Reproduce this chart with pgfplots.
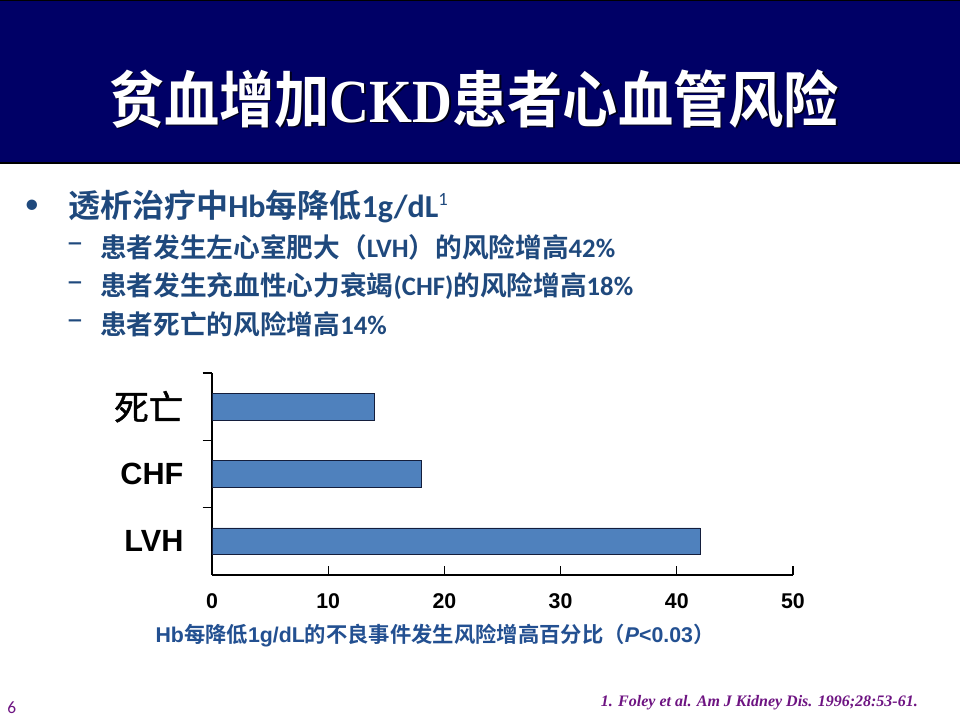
\documentclass[border=0pt]{standalone}
\usepackage{pgfplots}
\pgfplotsset{compat=1.18}
\usepackage{fontspec}
\setmainfont{Liberation Sans}
\newfontfamily\cjk{Noto Sans CJK SC}[BoldFont={Noto Sans CJK SC Bold}]
\newfontfamily\cjkmed{Noto Sans CJK SC}[FakeBold=1.2]
\newfontfamily\calfont{Carlito}
\newfontfamily\arialfont{Liberation Sans}
\newfontfamily\seriffont{Liberation Serif}
\newcommand\fs[1]{\fontsize{#1}{#1}\selectfont}
\definecolor{navy}{RGB}{0,0,102}
\definecolor{txtblue}{RGB}{31,73,125}
\definecolor{lblblue}{RGB}{35,80,145}
\definecolor{barblue}{RGB}{79,129,189}
\definecolor{bardraw}{RGB}{20,30,60}
\definecolor{refpurple}{RGB}{110,20,130}
\def\px#1#2{({(#1)*0.75pt},{540pt-(#2)*0.75pt})}
\begin{document}
\begin{tikzpicture}
\useasboundingbox[fill=white] (0,0) rectangle (720pt,540pt);
% title band
\fill[navy] \px{0}{0} rectangle \px{960}{163};
\draw[black, line width=1pt] \px{0}{0.5} -- \px{960}{0.5};
\draw[black, line width=1.2pt] \px{0}{163} -- \px{960}{163};
\node[black!75!navy, xscale=0.9, inner sep=0pt] at \px{475.5}{100.5} {\cjk\bfseries\fs{46}贫血增加{\seriffont CKD}患者心血管风险};
\node[white, xscale=0.9, inner sep=0pt] at \px{474}{99} {\cjk\bfseries\fs{46}贫血增加{\seriffont CKD}患者心血管风险};
% bullets
\node[txtblue, inner sep=0pt] at \px{32}{207} {\calfont\fs{22}•};
\node[txtblue, anchor=west, inner sep=0pt] at \px{68}{207} {\bfseries\fs{24}{\cjk 透析治疗中}{\calfont Hb}{\cjk 每降低}{\calfont 1g/dL\raisebox{0.38em}{\fs{14}\mdseries 1}}};
\node[txtblue, anchor=west, inner sep=0pt] at \px{66}{248} {\calfont\fs{26}–};
\node[txtblue, anchor=west, inner sep=0pt] at \px{66}{287} {\calfont\fs{26}–};
\node[txtblue, anchor=west, inner sep=0pt] at \px{66}{325} {\calfont\fs{26}–};
\node[txtblue, anchor=west, inner sep=0pt] at \px{100}{247} {\bfseries\fs{20}{\cjk 患者发生左心室肥大（}{\calfont LVH}{\cjk ）的风险增高}{\calfont 42\%}};
\node[txtblue, anchor=west, inner sep=0pt] at \px{100}{286} {\bfseries\fs{20}{\cjk 患者发生充血性心力衰竭}{\calfont (CHF)}{\cjk 的风险增高}{\calfont 18\%}};
\node[txtblue, anchor=west, inner sep=0pt] at \px{100}{324} {\bfseries\fs{20}{\cjk 患者死亡的风险增高}{\calfont 14\%}};
% chart
\begin{axis}[
 at={(159pt,108.75pt)}, anchor=south west,
 scale only axis, width=435.75pt, height=151.5pt,
 xmin=0, xmax=50, ymin=-0.5, ymax=2.5,
 axis x line*=bottom, axis y line*=left,
 axis line style={-, black, line width=0.9pt},
 tick align=inside,
 major tick length=7pt,
 tick style={black, line width=0.8pt},
 /pgf/number format/assume math mode=true,
 xtick={0,10,20,30,40,50},
 xticklabel style={font=\arialfont\bfseries\fs{16}, anchor=base, yshift=-25pt, inner sep=0pt},
 ytick={0.5,1.5,2.5},
 yticklabels={},
 extra y ticks={0,1,2},
 extra y tick labels={LVH,CHF,{\cjkmed\mdseries\fs{26}死亡}},
 extra y tick style={tick style={draw=none}, yticklabel style={font=\arialfont\bfseries\fs{23}, anchor=east, inner sep=0pt, xshift=-14.25pt}},
 xbar, bar width=20pt,
 clip=false,
]
\addplot[xbar, fill=barblue, draw=bardraw, line width=0.7pt] coordinates {(42,0) (18,1) (14,2)};
\end{axis}
\node[lblblue, inner sep=0pt] at \px{435}{636} {\bfseries\fs{16}{\arialfont Hb}{\cjk 每降低}{\arialfont 1g/dL}{\cjk 的不良事件发生风险增高百分比（}{\arialfont\itshape P}{\arialfont <0.03}{\cjk ）}};
% footer
\node[refpurple, anchor=west, inner sep=0pt] at \px{7}{708} {\calfont\fs{13}6};
\node[refpurple, anchor=east, inner sep=0pt] at \px{918}{703} {\seriffont\bfseries\itshape\fs{12}1. Foley et al. Am J Kidney Dis. 1996;28:53-61.};
\end{tikzpicture}
\end{document}
